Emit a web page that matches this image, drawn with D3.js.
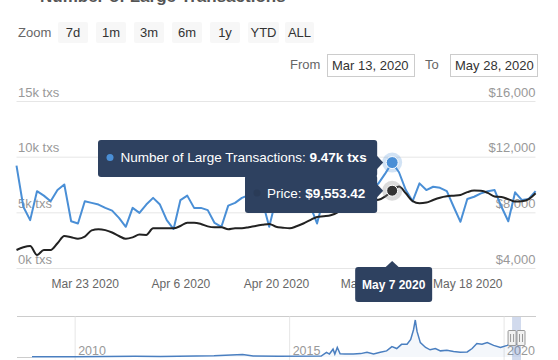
<!DOCTYPE html>
<html>
<head>
<meta charset="utf-8">
<script src="https://cdn.jsdelivr.net/npm/d3@7"></script>
<style>
  html, body { margin: 0; padding: 0; background: #fff; }
  svg { display: block; font-family: "Liberation Sans", Arial, sans-serif; }
</style>
</head>
<body>
<svg id="chart" width="558" height="360"></svg>
<script>
// ---------------- DATA ----------------
const startDate = "2020-03-13";
const endDate = "2020-05-28";
// daily number of large transactions (k txs), Mar 13 .. May 28 2020
const largeTxs = [9.2, 5.5, 4.3, 6.9, 6.5, 6.0, 7.0, 7.5, 4.2, 4.0,
  6.0, 5.85, 5.7, 5.4, 5.15, 4.5, 3.7, 5.4, 4.95, 5.7,
  6.3, 5.7, 4.3, 3.5, 6.1, 6.5, 5.4, 5.4, 5.2, 4.05,
  3.7, 5.6, 5.85, 6.3, 6.55, 6.9, 6.0, 3.7, 6.2, 6.8,
  6.5, 7.2, 6.6, 5.6, 4.0, 6.3, 6.8, 7.5, 6.9, 7.8,
  7.2, 8.0, 7.1, 7.6, 8.5, 9.47, 8.6, 7.0, 6.0, 7.6,
  7.0, 7.3, 7.2, 6.9, 5.5, 4.15, 6.2, 6.4, 6.7, 6.9,
  7.0, 5.5, 4.2, 6.8, 6.1, 6.2, 6.9];
// daily price (USD)
const price = [5295, 5490, 5580, 4935, 5295, 5295, 5777, 6300, 6209, 6108,
  6252, 6700, 6784, 6720, 6550, 6300, 6100, 6200, 6400, 6380,
  6850, 6850, 6850, 6850, 7021, 7259, 7259, 7165, 6990, 6928,
  6928, 6784, 6856, 6856, 6928, 7021, 7100, 7165, 6970, 6900,
  6850, 7000, 7200, 7440, 7670, 7720, 7790, 8000, 8400, 8600,
  8700, 8800, 8850, 8900, 9150, 9553.42, 9849, 9370, 8800, 8650,
  8700, 8890, 9050, 9150, 9200, 9250, 9450, 9560, 9550, 9400,
  9130, 9100, 8950, 8770, 8800, 8950, 9370];
const txTicks = [0, 5000, 10000, 15000];
const priceTicks = [4000, 8000, 12000, 16000];
const xTickDates = ["2020-03-23", "2020-04-06", "2020-04-20", "2020-05-04", "2020-05-18"];
const zoomButtons = ["7d", "1m", "3m", "6m", "1y", "YTD", "ALL"];
const hoverIndex = 55; // May 7 2020
// navigator (full history), k txs
const navDates = ["2009-01-03","2010-01-01","2011-06-01","2012-01-01","2013-04-01","2013-12-01","2014-03-01","2014-10-01",
  "2015-10-01","2015-11-15","2015-12-10","2016-01-10","2016-01-25","2016-02-15","2016-03-10","2016-04-20",
  "2016-07-01","2016-09-01","2016-10-25","2016-12-20","2017-02-15","2017-04-10","2017-05-25","2017-07-05",
  "2017-08-15","2017-10-01","2017-11-01","2017-11-25","2017-12-10","2017-12-25","2018-01-22","2018-03-08",
  "2018-04-15","2018-05-30","2018-07-12","2018-09-05","2018-11-01","2018-12-28","2019-02-25","2019-04-08",
  "2019-05-18","2019-07-01","2019-08-15","2019-10-08","2019-12-05","2020-02-01","2020-03-01","2020-04-01","2020-05-28"];
const navTxs = [0.1,0.15,0.3,0.2,0.6,1.2,0.5,0.3,
  0.45,2.2,1.4,3.7,1.4,4.5,1.5,1.4,
  1.4,1.6,2.2,1.4,2.2,2.9,4.9,4.0,
  6.0,6.0,8.3,12.9,17.5,12.1,6.8,4.5,
  3.4,4.0,2.9,3.2,2.6,2.2,2.4,4.0,
  6.4,6.0,6.8,5.5,4.5,5.5,6.4,5.8,6.5];
const navYearTicks = ["2010-01-01", "2015-01-01", "2020-01-01"];

// ---------------- SETUP ----------------
const parse = d3.timeParse("%Y-%m-%d");
const svg = d3.select("#chart");
const days = d3.timeDay.range(parse(startDate), d3.timeDay.offset(parse(endDate), 1));
const data = days.map((d, i) => ({date: d, tx: largeTxs[i] * 1000, price: price[i]}));

const x = d3.scaleTime().domain([parse(startDate), parse(endDate)]).range([16.5, 535.6]);
const yTx = d3.scaleLinear().domain([0, 15000]).range([268, 101]);
const yPrice = d3.scaleLinear().domain([4000, 16000]).range([268, 101]);

// Title (cut off at top)
svg.append("text").attr("x", 40).attr("y", 1.5).attr("font-size", 17).attr("font-weight", "bold")
  .attr("fill", "#555").text("Number of Large Transactions");

// ---------------- RANGE SELECTOR ----------------
svg.append("text").attr("x", 18).attr("y", 37).attr("font-size", 13).attr("fill", "#666").text("Zoom");
const btnX = [58, 96, 134, 172, 210, 248, 285];
const btnW = [30, 30, 30, 30, 30, 31, 29];
const btn = svg.append("g").selectAll("g").data(zoomButtons).join("g");
btn.append("rect").attr("x", (d, i) => btnX[i]).attr("y", 22).attr("width", (d, i) => btnW[i]).attr("height", 21)
  .attr("rx", 2).attr("fill", "#f7f7f7");
btn.append("text").attr("x", (d, i) => btnX[i] + btnW[i] / 2).attr("y", 37).attr("text-anchor", "middle")
  .attr("font-size", 13).attr("fill", "#333").text(d => d);

// date inputs
svg.append("text").attr("x", 290).attr("y", 69).attr("font-size", 13).attr("fill", "#666").text("From");
svg.append("rect").attr("x", 327.5).attr("y", 54.5).attr("width", 87).attr("height", 22).attr("fill", "#fff").attr("stroke", "#ccc");
svg.append("text").attr("x", 332).attr("y", 69.5).attr("font-size", 13).attr("fill", "#333")
  .text(d3.timeFormat("%b %-d, %Y")(parse(startDate)));
svg.append("text").attr("x", 425).attr("y", 69).attr("font-size", 13).attr("fill", "#666").text("To");
svg.append("rect").attr("x", 450.5).attr("y", 54.5).attr("width", 87).attr("height", 22).attr("fill", "#fff").attr("stroke", "#ccc");
svg.append("text").attr("x", 455).attr("y", 69.5).attr("font-size", 13).attr("fill", "#333")
  .text(d3.timeFormat("%b %-d, %Y")(parse(endDate)));

// ---------------- AXES / GRID ----------------
const gL = svg.append("g").attr("transform", "translate(16.5,0)")
  .call(d3.axisRight(yTx).tickValues(txTicks).tickSize(519).tickFormat(d => (d / 1000) + "k txs"));
gL.select(".domain").remove();
gL.selectAll(".tick line").attr("stroke", "#e6e6e6");
gL.selectAll(".tick text").attr("x", 1.5).attr("dy", -5).attr("font-size", 13).attr("fill", "#999")
  .attr("font-family", null).attr("text-anchor", "start");

const gR = svg.append("g").attr("transform", "translate(535.5,0)")
  .call(d3.axisLeft(yPrice).tickValues(priceTicks).tickSize(0).tickFormat(d => "$" + d3.format(",")(d)));
gR.select(".domain").remove();
gR.selectAll(".tick text").attr("x", 0).attr("dy", -5).attr("font-size", 13).attr("fill", "#999")
  .attr("font-family", null).attr("text-anchor", "end");

const gX = svg.append("g").attr("transform", "translate(0,268)")
  .call(d3.axisBottom(x).tickValues(xTickDates.map(parse)).tickSize(0).tickFormat(d3.timeFormat("%b %-d %Y")));
gX.select(".domain").remove();
gX.selectAll(".tick text").attr("y", 20).attr("dy", 0).attr("font-size", 12).attr("fill", "#666").attr("font-family", null);

// ---------------- SERIES ----------------
const lineTx = d3.line().x(d => x(d.date)).y(d => yTx(d.tx));
const linePrice = d3.line().curve(d3.curveMonotoneX).x(d => x(d.date)).y(d => yPrice(d.price));
svg.append("path").datum(data).attr("d", lineTx).attr("fill", "none").attr("stroke", "#4a8fd6")
  .attr("stroke-width", 2).attr("stroke-linejoin", "round");
svg.append("path").datum(data).attr("d", linePrice).attr("fill", "none").attr("stroke", "#222")
  .attr("stroke-width", 2).attr("stroke-linejoin", "round");

// hover markers
const h = data[hoverIndex];
svg.append("circle").attr("cx", x(h.date)).attr("cy", yTx(h.tx)).attr("r", 10).attr("fill", "#4a8fd6").attr("opacity", 0.25);
svg.append("circle").attr("cx", x(h.date)).attr("cy", yTx(h.tx)).attr("r", 6).attr("fill", "#4a8fd6").attr("stroke", "#fff").attr("stroke-width", 1);
svg.append("circle").attr("cx", x(h.date)).attr("cy", yPrice(h.price)).attr("r", 10).attr("fill", "#888").attr("opacity", 0.3);
svg.append("circle").attr("cx", x(h.date)).attr("cy", yPrice(h.price)).attr("r", 5.5).attr("fill", "#333").attr("stroke", "#fff").attr("stroke-width", 1);

// ---------------- TOOLTIPS ----------------
const tipColor = "#2e4160";
const hx = x(h.date), hyT = yTx(h.tx), hyP = yPrice(h.price);
// box 1
svg.append("rect").attr("x", 98).attr("y", 140).attr("width", hx - 15 - 98).attr("height", 37).attr("rx", 3).attr("fill", tipColor);
svg.append("path").attr("d", `M${hx - 15.5},${hyT - 7}L${hx - 9},${hyT}L${hx - 15.5},${hyT + 7}Z`).attr("fill", tipColor);
// box 2
svg.append("rect").attr("x", 245).attr("y", 175).attr("width", hx - 15 - 245).attr("height", 38).attr("rx", 3).attr("fill", tipColor);
svg.append("path").attr("d", `M${hx - 15.5},${hyP - 7}L${hx - 9},${hyP}L${hx - 15.5},${hyP + 7}Z`).attr("fill", tipColor);
svg.append("circle").attr("cx", 110).attr("cy", 157.5).attr("r", 3.5).attr("fill", "#4a8fd6");
const t1 = svg.append("text").attr("x", 120.5).attr("y", 162).attr("font-size", 13.5).attr("fill", "#fff");
t1.append("tspan").text("Number of Large Transactions: ");
t1.append("tspan").attr("font-weight", "bold").text(d3.format(".2f")(h.tx / 1000) + "k txs");
svg.append("circle").attr("cx", 257).attr("cy", 193).attr("r", 3.5).attr("fill", "#2a3b57");
const t2 = svg.append("text").attr("x", 267).attr("y", 198).attr("font-size", 13.5).attr("fill", "#fff");
t2.append("tspan").text("Price: ");
t2.append("tspan").attr("font-weight", "bold").text("$" + d3.format(",.2f")(h.price));
// date label
svg.append("rect").attr("x", hx - 37).attr("y", 267).attr("width", 77).attr("height", 35).attr("rx", 3).attr("fill", tipColor);
svg.append("path").attr("d", `M${hx - 7},267.5L${hx},261L${hx + 7},267.5Z`).attr("fill", tipColor);
svg.append("text").attr("x", hx + 1.5).attr("y", 289).attr("text-anchor", "middle").attr("font-size", 12)
  .attr("font-weight", "bold").attr("fill", "#fff").text(d3.timeFormat("%B %-d %Y")(h.date));

// ---------------- NAVIGATOR ----------------
const navData = navDates.map((d, i) => ({date: parse(d), v: navTxs[i]}));
const xN = d3.scaleTime().domain([parse(navDates[0]), parse(endDate)]).range([32, 521]);
const yN = d3.scaleLinear().domain([0, d3.max(navTxs)]).range([357, 320]);
const nav = svg.append("g");
nav.append("line").attr("x1", 17).attr("x2", 536).attr("y1", 316.5).attr("y2", 316.5).attr("stroke", "#ccc");
const gN = nav.append("g").attr("transform", "translate(0,316.5)")
  .call(d3.axisBottom(xN).tickValues(navYearTicks.map(parse)).tickSize(44).tickFormat(d3.timeFormat("%Y")));
gN.select(".domain").remove();
gN.selectAll(".tick line").attr("stroke", "#e6e6e6");
gN.selectAll(".tick text").attr("x", 3).attr("y", 38.5).attr("dy", 0).attr("text-anchor", "start")
  .attr("font-size", 12.5).attr("fill", "#999").attr("font-family", null);
nav.append("line").attr("x1", 17).attr("x2", 32).attr("y1", 357.5).attr("y2", 357.5).attr("stroke", "#ccc");
nav.append("path").datum(navData).attr("d", d3.area().x(d => xN(d.date)).y0(357).y1(d => yN(d.v)))
  .attr("fill", "#4a7fc0").attr("opacity", 0.06);
nav.append("path").datum(navData).attr("d", d3.line().x(d => xN(d.date)).y(d => yN(d.v)))
  .attr("fill", "none").attr("stroke", "#4a7fc0").attr("stroke-width", 1.5);
const s0 = xN(parse(startDate)), s1 = xN(parse(endDate));
nav.append("rect").attr("x", s0).attr("y", 317).attr("width", s1 - s0).attr("height", 43).attr("fill", "rgba(102,133,194,0.3)");
[s0, s1].forEach(sx => {
  nav.append("rect").attr("x", sx - 4).attr("y", 330.5).attr("width", 8).attr("height", 15).attr("rx", 1)
    .attr("fill", "#f2f2f2").attr("stroke", "#999");
  nav.append("line").attr("x1", sx - 1.5).attr("x2", sx - 1.5).attr("y1", 334).attr("y2", 342).attr("stroke", "#999");
  nav.append("line").attr("x1", sx + 1.5).attr("x2", sx + 1.5).attr("y1", 334).attr("y2", 342).attr("stroke", "#999");
});
</script>
</body>
</html>
